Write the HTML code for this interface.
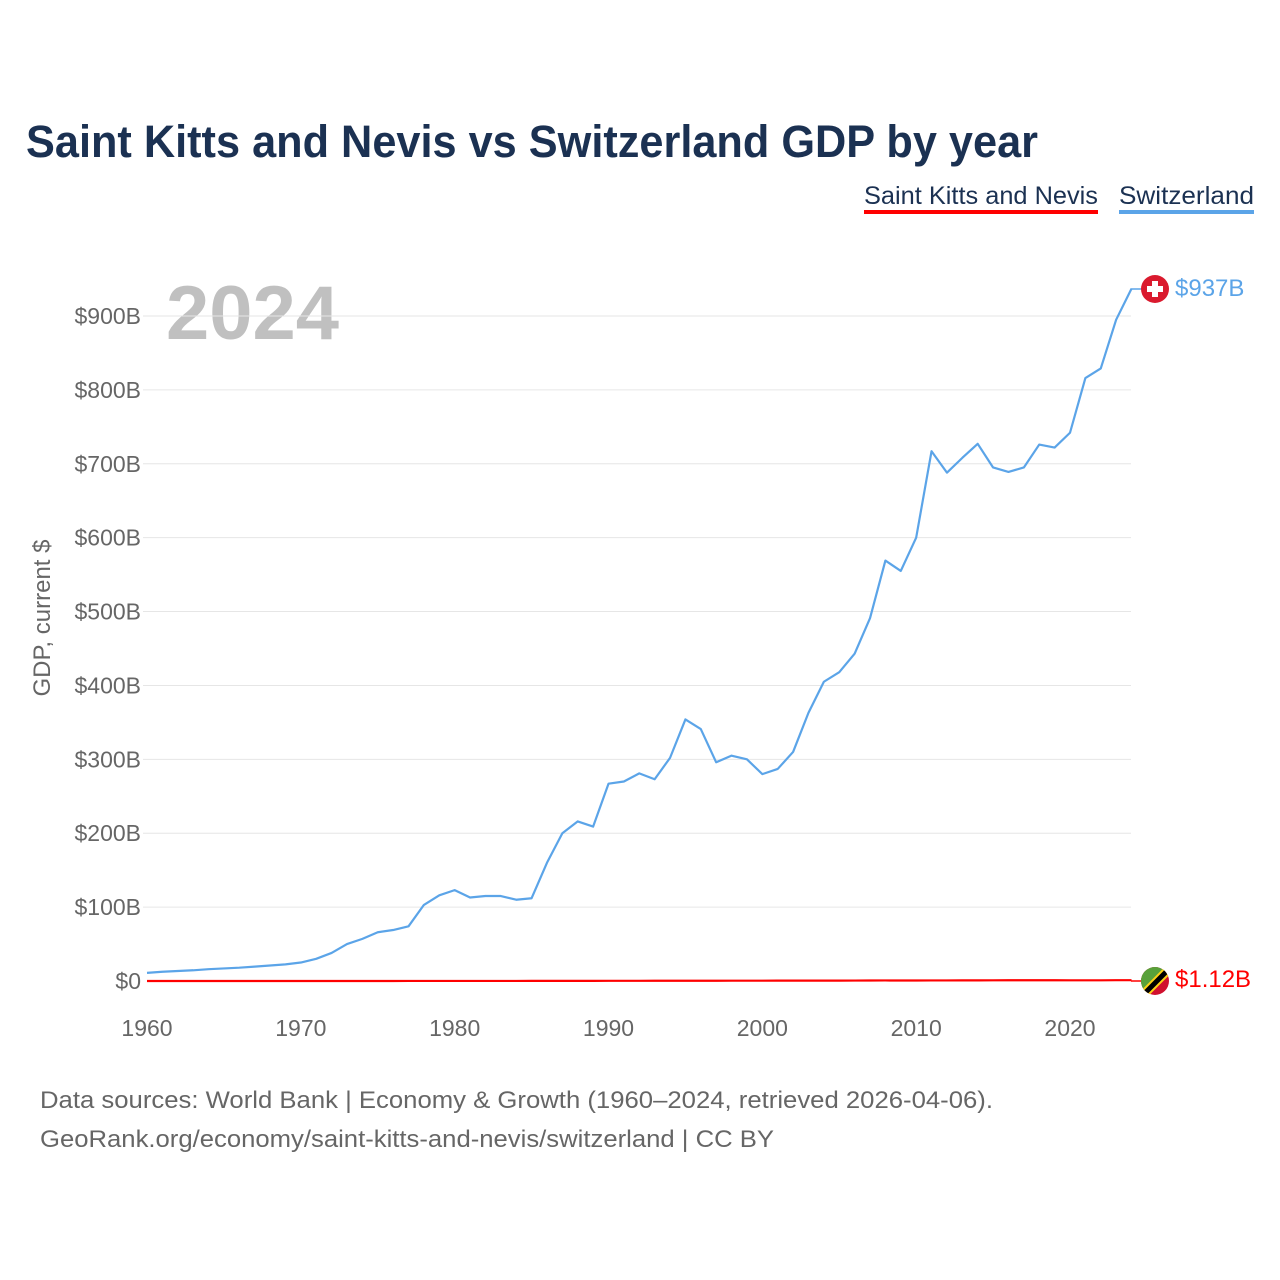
<!DOCTYPE html>
<html><head><meta charset="utf-8"><style>
body{margin:0;background:#fff;font-family:"Liberation Sans",sans-serif;}
#wrap{position:relative;width:1280px;height:1280px;overflow:hidden;}
</style></head><body>
<div id="wrap">
<svg id="chart" width="1280" height="1280" xmlns="http://www.w3.org/2000/svg">
<defs><clipPath id="cc"><circle cx="1155" cy="981" r="14"/></clipPath></defs>
<text x="26" y="157" font-size="45" font-weight="bold" fill="#1b3152" textLength="1012" lengthAdjust="spacingAndGlyphs">Saint Kitts and Nevis vs Switzerland GDP by year</text>
<g><text x="864" y="204" font-size="25" fill="#1b3152" textLength="234" lengthAdjust="spacingAndGlyphs">Saint Kitts and Nevis</text><rect x="864" y="210" width="234" height="4" fill="#f00"/></g>
<g><text x="1119" y="204" font-size="25" fill="#1b3152" textLength="135" lengthAdjust="spacingAndGlyphs">Switzerland</text><rect x="1119" y="210" width="135" height="4" fill="#5ba4e8"/></g>
<text x="166" y="339" font-size="76" font-weight="bold" fill="#c0c0c0" textLength="173" lengthAdjust="spacingAndGlyphs">2024</text>
<text transform="translate(50,618) rotate(-90)" text-anchor="middle" font-size="24" fill="#666">GDP, current $</text>
<g id="grid"></g><g id="yt"></g><g id="xt"></g><g id="lines"></g>
<g>
<line x1="1131" y1="289" x2="1142" y2="289" stroke="#5ba4e8" stroke-width="1.5"/>
<circle cx="1155" cy="289" r="14" fill="#da1a2e"/>
<rect x="1152" y="281" width="6" height="16" fill="#fff"/><rect x="1147" y="286" width="16" height="6" fill="#fff"/>
<text x="1175" y="296" font-size="24" fill="#5ba4e8">$937B</text></g>
<g>
<line x1="1131" y1="981" x2="1142" y2="981" stroke="#f00" stroke-width="1.5"/>
<g clip-path="url(#cc)"><rect x="1140" y="966" width="30" height="30" fill="#d0102e"/><polygon points="1140,966 1170,966 1140,996" fill="#58a13a"/><line x1="1140" y1="998" x2="1172" y2="966" stroke="#fcd116" stroke-width="9"/><line x1="1140" y1="998" x2="1172" y2="966" stroke="#000" stroke-width="5"/></g>
<text x="1175" y="987" font-size="24" fill="#f00">$1.12B</text></g>
<text x="40" y="1108" font-size="24" fill="#666" textLength="953" lengthAdjust="spacingAndGlyphs">Data sources: World Bank | Economy &amp; Growth (1960–2024, retrieved 2026-04-06).</text>
<text x="40" y="1147" font-size="24" fill="#666" textLength="734" lengthAdjust="spacingAndGlyphs">GeoRank.org/economy/saint-kitts-and-nevis/switzerland | CC BY</text>
</svg></div>
<script>
const years=[];for(let y=1960;y<=2024;y++)years.push(y);
const switzerland=[11,12.5,13.5,14.5,16,17,18,19.5,21,22.5,25,30,38,50,57,66,69,74,103,116,123,113,115,115,110,112,160,200,216,209,267,270,281,273,302,354,341,296,305,300,280,287,310,363,405,418,443,491,569,555,600,717,688,708,727,695,689,695,726,722,742,816,829,895,937];
const saintKitts=[0.012,0.013,0.014,0.015,0.016,0.017,0.018,0.019,0.02,0.022,0.025,0.028,0.03,0.035,0.04,0.045,0.05,0.055,0.06,0.07,0.08,0.09,0.09,0.1,0.11,0.12,0.14,0.16,0.19,0.21,0.24,0.25,0.27,0.29,0.31,0.33,0.35,0.38,0.41,0.43,0.45,0.47,0.48,0.49,0.52,0.55,0.62,0.66,0.73,0.71,0.72,0.79,0.79,0.84,0.89,0.93,0.97,0.99,1.03,1.05,0.92,0.91,0.96,1.07,1.12];
const yTicks=[0,100,200,300,400,500,600,700,800,900];
const yTickLabels=["$0","$100B","$200B","$300B","$400B","$500B","$600B","$700B","$800B","$900B"];
const xTicks=[1960,1970,1980,1990,2000,2010,2020];
const X=y=>147+(y-1960)*(1070-147)/60;
const Y=v=>981-v*(981-316)/900;
const NS="http://www.w3.org/2000/svg";
function mk(tag,attrs,parent){const e=document.createElementNS(NS,tag);for(const k in attrs)e.setAttribute(k,attrs[k]);document.getElementById(parent).appendChild(e);return e;}
yTicks.forEach((v,i)=>{
 if(v>0){const g=mk('line',{x1:143,x2:1131,y1:Y(v),y2:Y(v),stroke:'#e6e6e6','stroke-width':1},'grid');
 
 }
 const t=mk('text',{x:141,y:Y(v)+8,'text-anchor':'end','font-size':23,fill:'#666'},'yt');t.textContent=yTickLabels[i];
 
 
});
xTicks.forEach(y=>{const t=mk('text',{x:X(y),y:1036,'text-anchor':'middle','font-size':23,fill:'#666'},'xt');t.textContent=y;
 
 });
function line(vals,color,name){const p=mk('polyline',{points:vals.map((v,i)=>X(years[i])+','+Y(v)).join(' '),fill:'none',stroke:color,'stroke-width':2.2,'stroke-linejoin':'round'},'lines');
 
 }
line(switzerland,'#5ba4e8','switzerland-line');
line(saintKitts,'#f00','saint-kitts-line');
</script>
</body></html>
